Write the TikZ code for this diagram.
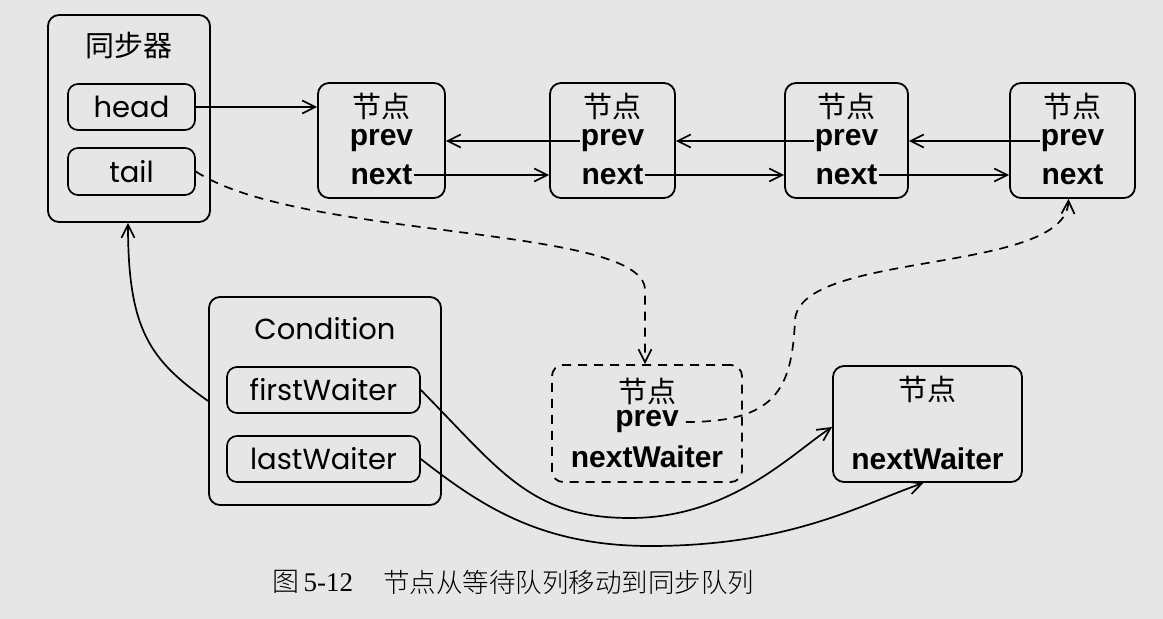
\documentclass[tikz,border=0pt]{standalone}
\usepackage{fontspec}
\setmainfont{Liberation Sans}
\newfontfamily\cjk{Noto Sans CJK SC}
\newfontfamily\geo{Poppins}
\newfontfamily\capserif{Liberation Serif}
\newfontfamily\capcjk{Noto Sans CJK SC}[UprightFont=* Light]
\usetikzlibrary{arrows.meta,calc}
\definecolor{bg}{HTML}{E6E6E6}
\begin{document}
\begin{tikzpicture}[x=1pt,y=-1pt,
  box/.style={draw,line width=1.8pt,rounded corners=11pt,inner sep=0pt},
  field/.style={draw,line width=1.7pt,rounded corners=10pt,inner sep=0pt,minimum width=127pt,minimum height=46pt,font=\geo\fontsize{29}{31}\selectfont},
  cn/.style={font=\cjk\fontsize{29}{31}\selectfont,inner sep=0pt},
  bt/.style={font=\bfseries\fontsize{30}{32}\selectfont,inner sep=1pt},
  gt/.style={font=\geo\fontsize{29}{31}\selectfont,inner sep=0pt},
  arr/.style={line width=1.7pt,-{Straight Barb[length=13pt,width=13pt,line width=1.7pt]}},
  darr/.style={arr,dashed,dash pattern=on 9pt off 7pt}]
\fill[bg] (0,0) rectangle (1163,619);
\useasboundingbox (0,0) rectangle (1163,619);
% synchronizer
\node[box,minimum width=162pt,minimum height=207pt] (sync) at (129,118.5) {};
\node[cn] (synct) at (129,46) {同步器};
\node[field] (head) at (131.5,107) {head};
\node[field,minimum height=47pt] (tail) at (131.5,171.5) {tail};
% queue nodes
\foreach \n/\x/\w in {1/381.5/127,2/612.5/125,3/846.5/123,4/1072.5/125}{
  \node[box,minimum width=\w pt,minimum height=115pt] (n\n) at (\x,140.5) {};
  \node[cn] (n\n t) at (\x,106) {节点};
  \node[bt] (n\n p) at (\x,141) {prev};
  \node[bt] (n\n n) at (\x,175) {next};
}
\draw[arr] (head.east) -- (head.east -| n1.west);
\foreach \a/\b in {1/2,2/3,3/4}{
  \draw[arr] (n\b p.west) -- (n\b p.west -| n\a.east);
  \draw[arr] (n\a n.east) -- (n\a n.east -| n\b.west);
}
% dashed node
\node[box,dashed,dash pattern=on 9pt off 7pt,minimum width=190pt,minimum height=117pt] (dn) at (647,423.5) {};
\node[cn] (dnt) at (647,391) {节点};
\node[bt] (dnp) at (647,422) {prev};
\node[bt] (dnw) at (647,457) {nextWaiter};
% right node
\node[box,minimum width=189pt,minimum height=116pt] (rn) at (927.5,424) {};
\node[cn] (rnt) at (927.5,389) {节点};
\node[bt] (rnw) at (927.5,459) {nextWaiter};
% condition
\node[box,minimum width=232pt,minimum height=208pt] (cond) at (325,401) {};
\node[gt] (condt) at (325,329) {Condition};
\node[field,minimum width=193pt] (fw) at (323.5,390) {firstWaiter};
\node[field,minimum width=193pt] (lw) at (323.5,459) {lastWaiter};
% dashed connectors
\draw[darr] (tail.east) .. controls (300,240) and (645,225) .. (645,290) -- (dn.north -| 645,0);
\draw[darr] ($(dnp.east)+(6,0)$) .. controls (775,422) and (792,390) .. (795,320)
   .. controls (800,250) and (1066,275) .. ($(n4.south)+(-4,0)$);
% solid curves
\draw[arr] (cond.west) .. controls (150,360) and (128,330) .. (sync.south -| 128,0);
\draw[arr] (fw.east) .. controls (500,470) and (530,518) .. (630,518) .. controls (730,518) and (790,455) .. ($(rn.west)+(0,3)$);
\draw[arr] (lw.east) .. controls (480,505) and (540,546) .. (650,546) .. controls (790,546) and (860,505) .. ($(rn.south)+(-4,0)$);
% caption
\node[anchor=west,inner sep=0pt,font=\fontsize{27}{29}\selectfont] (cap1) at (272,582) {{\capcjk 图}\,{\capserif 5-12}};
\node[anchor=west,inner sep=0pt,font=\capcjk\fontsize{26.5}{29}\selectfont] (cap2) at (383,582) {节点从等待队列移动到同步队列};
\end{tikzpicture}
\end{document}
